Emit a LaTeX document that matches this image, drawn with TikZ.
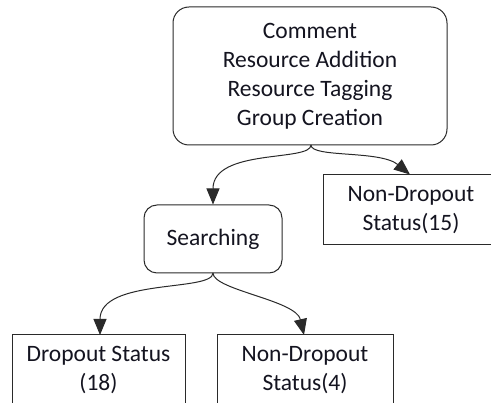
\documentclass[tikz,border=0pt]{standalone}
\usepackage{fontspec}
\setmainfont{Carlito}
\usetikzlibrary{arrows.meta}
\definecolor{edge}{HTML}{2A2A2A}
\definecolor{txt}{HTML}{141420}
\tikzset{
  box/.style={draw=edge, line width=1pt, fill=white, text=txt, align=center,
    font=\fontsize{23.5}{29}\selectfont, inner sep=0pt},
  roundbox/.style={box, rounded corners=16pt},
  link/.style={draw=edge, line width=1pt, -{Triangle[length=16pt,width=13pt]}},
}
\begin{document}
\begin{tikzpicture}[x=1pt,y=-1pt]
\useasboundingbox (0,0) rectangle (491,403);
\clip (0,0) rectangle (491,403);
\node[roundbox, minimum width=274pt, minimum height=138pt] (top) at (310,76)
  {Comment\\Resource Addition\\Resource Tagging\\Group Creation};
\node[roundbox, rounded corners=13pt, minimum width=138pt, minimum height=68pt] (search) at (213,239) {Searching};
\node[box, minimum width=176pt, minimum height=70pt] (nd15) at (411,210) {Non-Dropout\\Status(15)};
\node[box, minimum width=173pt, minimum height=70pt] (drop) at (98.5,370) {Dropout Status\\(18)};
\node[box, minimum width=176pt, minimum height=70pt] (nd4) at (305,370) {Non-Dropout\\Status(4)};
\coordinate (ts) at (311,145);
\coordinate (ss) at (213,273);
\draw[link] (ts) .. controls (311,162) and (213,148) .. (search.north);
\draw[link] (ts) .. controls (311,158) and (380,150) .. ([xshift=-1pt]nd15.north);
\draw[link] (ss) .. controls (213,292) and (100,278) .. (100,335);
\draw[link] (ss) .. controls (213,290) and (296,300) .. (304,335);
\end{tikzpicture}
\end{document}
